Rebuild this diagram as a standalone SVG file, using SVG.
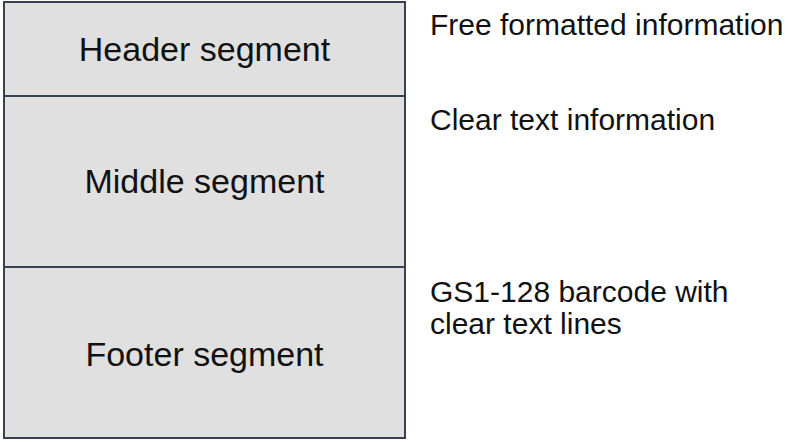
<svg xmlns="http://www.w3.org/2000/svg" width="793" height="442" viewBox="0 0 793 442">
<style>
.seg{fill:#dfe0df;stroke:#3a4152;stroke-width:2}
.lbl{font-family:"Liberation Sans",Arial,sans-serif;font-size:34px;fill:#111;text-anchor:middle}
.note{font-family:"Liberation Sans",Arial,sans-serif;font-size:30px;fill:#111}
</style>
<rect width="793" height="442" fill="#fff"/>
<g id="header"><rect class="seg" x="4" y="2" width="401" height="94"/><text class="lbl" x="204.5" y="61">Header segment</text></g>
<g id="middle"><rect class="seg" x="4" y="96" width="401" height="171"/><text class="lbl" x="204.5" y="193">Middle segment</text></g>
<g id="footer"><rect class="seg" x="4" y="267" width="401" height="171"/><text class="lbl" x="204.5" y="366">Footer segment</text></g>
<g id="notes">
<text class="note" x="430" y="35">Free formatted information</text>
<text class="note" x="430" y="130">Clear text information</text>
<text class="note" x="430" y="302">GS1-128 barcode with</text>
<text class="note" x="430" y="334">clear text lines</text>
</g>
</svg>
